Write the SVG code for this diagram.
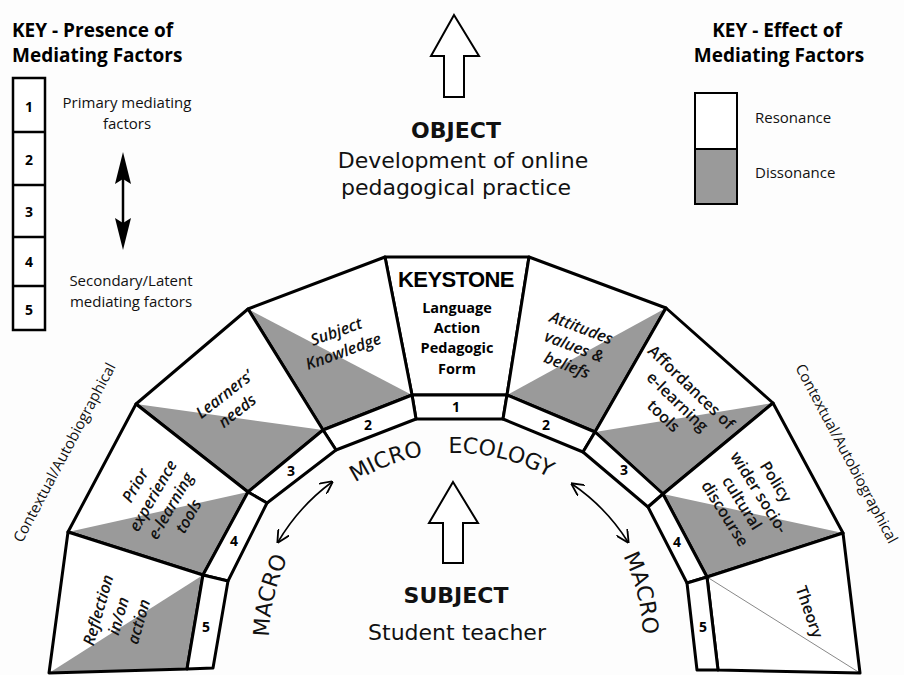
<svg xmlns="http://www.w3.org/2000/svg" width="904" height="675" viewBox="0 0 904 675">
<style>
.bg{fill:#fff;stroke:none}
.sh{fill:#9a9a9a;stroke:none}
.ol{fill:none;stroke:#000;stroke-width:3;stroke-linejoin:round}
.band{fill:#fff;stroke:#000;stroke-width:3;stroke-linejoin:round}
.lbl{font-family:"Open Sans","Liberation Sans",sans-serif;font-size:16px;font-weight:600;text-anchor:middle;fill:#111}
.it{font-style:italic}
.num{font-family:"Open Sans","Liberation Sans",sans-serif;font-size:14px;font-weight:700;text-anchor:middle}
.small{font-family:"Open Sans","Liberation Sans",sans-serif;font-size:15px;text-anchor:middle;fill:#111}
.ktitle{font-family:"Open Sans","Liberation Sans",sans-serif;font-size:19px;font-weight:700;fill:#000}
.big{font-family:"DejaVu Sans","Verdana",sans-serif;font-size:22px;text-anchor:middle;fill:#111}
.eco{font-family:"DejaVu Sans","Verdana",sans-serif;font-size:22px;fill:#111}
.arr{fill:#fff;stroke:#000;stroke-width:2;stroke-linejoin:miter}
.conn{fill:none;stroke:#000;stroke-width:1.6}
.ks{font-family:"Open Sans","Liberation Sans",sans-serif;font-size:14.5px;font-weight:700;text-anchor:middle}
.ctx{font-family:"Open Sans","Liberation Sans",sans-serif;font-size:15px;text-anchor:middle;fill:#111}
</style>
<defs>
<marker id="v" viewBox="0 0 10 10" refX="9" refY="5" markerWidth="13" markerHeight="13" markerUnits="userSpaceOnUse" orient="auto-start-reverse">
<path d="M0,0 L10,5 L0,10" fill="none" stroke="#000" stroke-width="1.4"/>
</marker>
<path id="arc" d="M 269,640 A 187,187 0 0 1 643,640"/>
</defs>
<rect width="904" height="675" fill="#fdfdfd"/>

<g id="key-presence">
<text class="ktitle" x="12" y="37">KEY - Presence of</text>
<text class="ktitle" x="12" y="62">Mediating Factors</text>
<rect x="13" y="78" width="32" height="252" fill="#fff" stroke="#000" stroke-width="2.5"/>
<path d="M13,132 H45 M13,185 H45 M13,237 H45 M13,286 H45" stroke="#000" stroke-width="2.5"/>
<text class="num" x="29" y="112">1</text>
<text class="num" x="29" y="165">2</text>
<text class="num" x="29" y="217">3</text>
<text class="num" x="29" y="267">4</text>
<text class="num" x="29" y="315">5</text>
<text class="small" x="127" y="108">Primary mediating</text>
<text class="small" x="127" y="129">factors</text>
<path d="M123,172 V230" stroke="#000" stroke-width="2.5"/>
<path d="M123,152 L131,184 L123,179 L115,184 Z" fill="#000"/>
<path d="M123,250 L131,218 L123,223 L115,218 Z" fill="#000"/>
<text class="small" x="131" y="286">Secondary/Latent</text>
<text class="small" x="131" y="307">mediating factors</text>
</g>

<g id="key-effect">
<text class="ktitle" x="777" y="37" text-anchor="middle">KEY - Effect of</text>
<text class="ktitle" x="779" y="62" text-anchor="middle">Mediating Factors</text>
<rect x="695" y="93" width="42" height="56" fill="#fff" stroke="#000" stroke-width="2"/>
<rect x="695" y="149" width="42" height="55" fill="#9a9a9a" stroke="#000" stroke-width="2"/>
<text class="small" x="755" y="123" style="text-anchor:start">Resonance</text>
<text class="small" x="755" y="178" style="text-anchor:start">Dissonance</text>
</g>

<g id="object">
<polygon class="arr" points="454,15 479,56 464,56 464,97 444,97 444,56 431,56"/>
<text class="big" x="456" y="138" font-weight="bold" font-size="23">OBJECT</text>
<text class="big" x="463" y="168" font-size="22.5">Development of online</text>
<text class="big" x="456" y="195" font-size="22.5">pedagogical practice</text>
</g>

<g id="subject">
<polygon class="arr" points="453,482 478,523 463,523 463,563 443,563 443,523 429,523"/>
<text class="big" x="456" y="603" font-weight="bold" font-size="23">SUBJECT</text>
<text class="big" x="457" y="640">Student teacher</text>
</g>

<g id="keystone">
<polygon class="bg" points="385,257 529,257 507,395 412,395"/>
<polygon class="ol" points="385,257 529,257 507,395 412,395"/>
<text x="456" y="287" font-family="'Liberation Sans',Arial,sans-serif" font-size="22" font-weight="bold" text-anchor="middle" letter-spacing="-0.6">KEYSTONE</text>
<text class="ks" x="457" y="313">Language</text>
<text class="ks" x="457" y="333">Action</text>
<text class="ks" x="457" y="353">Pedagogic</text>
<text class="ks" x="457" y="374">Form</text>
</g>

<g id="subject-knowledge">
<polygon class="bg" points="248,309 385,257 412,395 323,430"/>
<polygon class="sh" points="248,309 412,395 323,430"/>
<polygon class="ol" points="248,309 385,257 412,395 323,430"/>
<text class="lbl it" transform="translate(340,342) rotate(-20)"><tspan x="0" y="-5.5">Subject</tspan><tspan x="0" y="15.5">Knowledge</tspan></text>
</g>

<g id="learners-needs">
<polygon class="bg" points="136,404 248,309 323,430 248,492"/>
<polygon class="sh" points="136,404 323,430 248,492"/>
<polygon class="ol" points="136,404 248,309 323,430 248,492"/>
<text class="lbl it" transform="translate(231,403) rotate(-38)"><tspan x="0" y="-5.5">Learners’</tspan><tspan x="0" y="15.5">needs</tspan></text>
</g>

<g id="prior-experience">
<polygon class="bg" points="68,532 136,404 248,492 203,575"/>
<polygon class="sh" points="68,532 248,492 203,575"/>
<polygon class="ol" points="68,532 136,404 248,492 203,575"/>
<text class="lbl it" transform="translate(162,501) rotate(-60)"><tspan x="0" y="-25.5">Prior</tspan><tspan x="0" y="-5">experience</tspan><tspan x="0" y="15.5">e-learning</tspan><tspan x="0" y="36">tools</tspan></text>
</g>

<g id="reflection">
<polygon class="bg" points="49,673 68,532 203,575 187,669"/>
<polygon class="sh" points="49,673 203,575 187,669"/>
<polygon class="ol" points="49,673 68,532 203,575 187,669"/>
<text class="lbl it" transform="translate(119,616) rotate(-74)"><tspan x="0" y="-16">Reflection</tspan><tspan x="0" y="5">in/on</tspan><tspan x="0" y="26">action</tspan></text>
</g>

<g id="attitudes">
<polygon class="bg" points="529,257 666,308 595,432 507,395"/>
<polygon class="sh" points="666,308 595,432 507,395"/>
<polygon class="ol" points="529,257 666,308 595,432 507,395"/>
<text class="lbl it" transform="translate(574,347) rotate(21)"><tspan x="0" y="-15">Attitudes</tspan><tspan x="0" y="5">values &amp;</tspan><tspan x="0" y="25">beliefs</tspan></text>
</g>

<g id="affordances">
<polygon class="bg" points="666,308 773,403 663,494 595,432"/>
<polygon class="sh" points="773,403 663,494 595,432"/>
<polygon class="ol" points="666,308 773,403 663,494 595,432"/>
<text class="lbl" transform="translate(677,402) rotate(44)"><tspan x="0" y="-15">Affordances of</tspan><tspan x="0" y="5">e-learning</tspan><tspan x="0" y="25">tools</tspan></text>
</g>

<g id="policy">
<polygon class="bg" points="773,403 843,533 707,577 663,494"/>
<polygon class="sh" points="843,533 707,577 663,494"/>
<polygon class="ol" points="773,403 843,533 707,577 663,494"/>
<text class="lbl" transform="translate(750,498) rotate(58)"><tspan x="0" y="-25">Policy</tspan><tspan x="0" y="-5">wider socio-</tspan><tspan x="0" y="15">cultural</tspan><tspan x="0" y="35">discourse</tspan></text>
</g>

<g id="theory">
<polygon class="bg" points="843,533 860,673 718,670 707,577"/>
<line x1="707" y1="577" x2="860" y2="673" stroke="#888" stroke-width="1"/>
<polygon class="ol" points="843,533 860,673 718,670 707,577"/>
<text class="lbl" transform="translate(809,612) rotate(71)"><tspan x="0" y="5">Theory</tspan></text>
</g>

<g id="bands">
<polygon class="band" points="412,395 507,395 503,419 416,419"/>
<polygon class="band" points="412,395 416,419 336,450 323,430"/>
<polygon class="band" points="323,430 336,450 267,503 248,492"/>
<polygon class="band" points="248,492 267,503 228,581 203,575"/>
<polygon class="band" points="203,575 228,581 213,668 187,669"/>
<polygon class="band" points="507,395 595,432 583,452 503,419"/>
<polygon class="band" points="595,432 663,494 648,507 583,452"/>
<polygon class="band" points="663,494 707,577 687,583 648,507"/>
<polygon class="band" points="707,577 718,670 697,670 687,583"/>
<text class="num" x="456" y="412">1</text>
<text class="num" x="368" y="430">2</text>
<text class="num" x="546" y="430">2</text>
<text class="num" x="291" y="476">3</text>
<text class="num" x="624" y="475">3</text>
<text class="num" x="234" y="546">4</text>
<text class="num" x="677" y="547">4</text>
<text class="num" x="206" y="632">5</text>
<text class="num" x="703" y="632">5</text>
</g>

<g id="context-labels">
<text class="ctx" x="0" y="0" transform="translate(69,455) rotate(-62)">Contextual/Autobiographical</text>
<text class="ctx" x="0" y="0" transform="translate(842,456) rotate(62)">Contextual/Autobiographical</text>
</g>

<g id="ecology">
<text class="eco"><textPath href="#arc" startOffset="3">MACRO</textPath></text>
<text class="eco"><textPath href="#arc" startOffset="187">MICRO</textPath></text>
<text class="eco"><textPath href="#arc" startOffset="286">ECOLOGY</textPath></text>
<text class="eco"><textPath href="#arc" startOffset="500">MACRO</textPath></text>
</g>

<g id="connectors">
<path class="conn" d="M 332,482 A 202,202 0 0 0 278,542" marker-start="url(#v)" marker-end="url(#v)"/>
<path class="conn" d="M 572,484 A 198,198 0 0 1 628,542" marker-start="url(#v)" marker-end="url(#v)"/>
</g>
</svg>
